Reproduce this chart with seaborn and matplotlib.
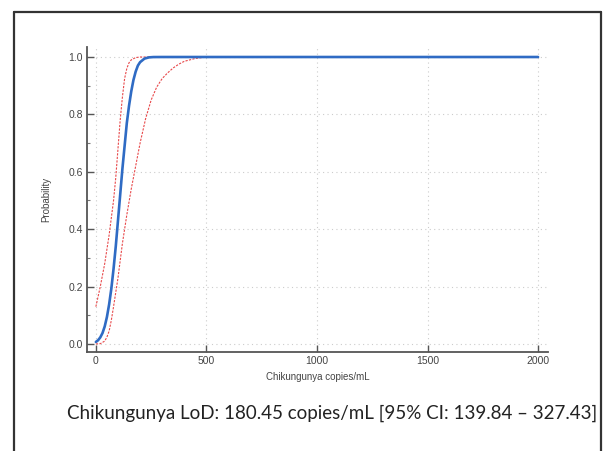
import matplotlib
matplotlib.use("Agg")
import matplotlib.pyplot as plt
from matplotlib.lines import Line2D
from matplotlib.ticker import MultipleLocator
import seaborn as sns
import pandas as pd

# ---- data ----
fit_x = [0, 10, 20, 30, 40, 50, 60, 70, 80, 90, 100, 110, 120, 130, 140, 150, 160, 170, 180, 190, 200, 220, 240, 260, 300, 500, 1000, 2000]
fit_p = [0.007, 0.013, 0.023, 0.038, 0.061, 0.094, 0.138, 0.193, 0.262, 0.34, 0.43, 0.52, 0.61, 0.69, 0.77, 0.83, 0.88, 0.92, 0.949, 0.97, 0.982, 0.9945, 0.9987, 0.9998, 1.0, 1.0, 1.0, 1.0]

upper_x = [0, 20, 40, 60, 80, 90, 100, 110, 120, 130, 140, 150, 160, 180, 200, 500, 2000]
upper_p = [0.13, 0.20, 0.28, 0.38, 0.50, 0.58, 0.68, 0.78, 0.86, 0.925, 0.96, 0.98, 0.99, 0.998, 1.0, 1.0, 1.0]

lower_x = [0, 20, 40, 50, 60, 70, 80, 100, 120, 140, 160, 180, 200, 225, 250, 275, 300, 325, 350, 375, 400, 450, 500, 1000, 2000]
lower_p = [0.0, 0.001, 0.01, 0.024, 0.045, 0.083, 0.13, 0.23, 0.35, 0.45, 0.54, 0.62, 0.70, 0.785, 0.85, 0.895, 0.925, 0.945, 0.962, 0.975, 0.985, 0.995, 1.0, 1.0, 1.0]

x_ticks = [0, 500, 1000, 1500, 2000]
y_ticks = [0.0, 0.2, 0.4, 0.6, 0.8, 1.0]
x_label = "Chikungunya copies/mL"
y_label = "Probability"
caption = "Chikungunya LoD: 180.45 copies/mL [95% CI: 139.84 \u2013 327.43]"

sns.set_theme(style="white")
plt.rcParams['font.family'] = ['Liberation Sans', 'DejaVu Sans']

fig = plt.figure(figsize=(6.06, 4.51), dpi=100)
ax = fig.add_axes([0.1436, 0.2195, 0.7607, 0.677])

red = "#e8484a"
blue = "#2f6bc4"
sns.lineplot(x=upper_x, y=upper_p, ax=ax, color=red, lw=0.8, linestyle=(0, (2.0, 1.2)), estimator=None)
sns.lineplot(x=lower_x, y=lower_p, ax=ax, color=red, lw=0.8, linestyle=(0, (2.0, 1.2)), estimator=None)
sns.lineplot(x=fit_x, y=fit_p, ax=ax, color=blue, lw=1.9, estimator=None)

ax.set_xlim(-40, 2045)
ax.set_ylim(-0.028, 1.036)
ax.set_xticks(x_ticks)
ax.set_yticks(y_ticks)
ax.set_xticklabels([str(t) for t in x_ticks])
ax.set_yticklabels([f"{t:.1f}" for t in y_ticks])
ax.yaxis.set_minor_locator(MultipleLocator(0.1))

for s in ["top", "right"]:
    ax.spines[s].set_visible(False)
for s in ["left", "bottom"]:
    ax.spines[s].set_color("#555555")
    ax.spines[s].set_linewidth(1.3)

ax.tick_params(axis="both", which="major", direction="in", length=5, width=1.0,
               color="#555555", labelsize=7.5, labelcolor="#444444", pad=3,
               left=True, bottom=True)
ax.tick_params(axis="y", which="minor", direction="in", length=2.5, width=0.8,
               color="#777777", left=True)

ax.grid(True, which="major", color="#cccccc", linestyle=(0, (1, 3)), linewidth=0.8)

ax.set_xlabel(x_label, fontsize=7, color="#444444", labelpad=4)
ax.set_ylabel(y_label, fontsize=7, color="#444444", labelpad=12)

fig.text(0.1105, 0.071, caption, fontsize=13.5, family=["Lato", "DejaVu Sans"],
         color="#222222", ha="left", va="baseline")

# screenshot frame
frame_kw = dict(color="#333333", lw=1.6, transform=fig.transFigure)
W, H = 606, 451
fig.add_artist(Line2D([14 / W, 14 / W], [0, 1 - 12 / H], **frame_kw))
fig.add_artist(Line2D([601 / W, 601 / W], [0, 1 - 12 / H], **frame_kw))
fig.add_artist(Line2D([14 / W, 601 / W], [1 - 12 / H, 1 - 12 / H], **frame_kw))

fig.savefig("out.png", dpi=100)
